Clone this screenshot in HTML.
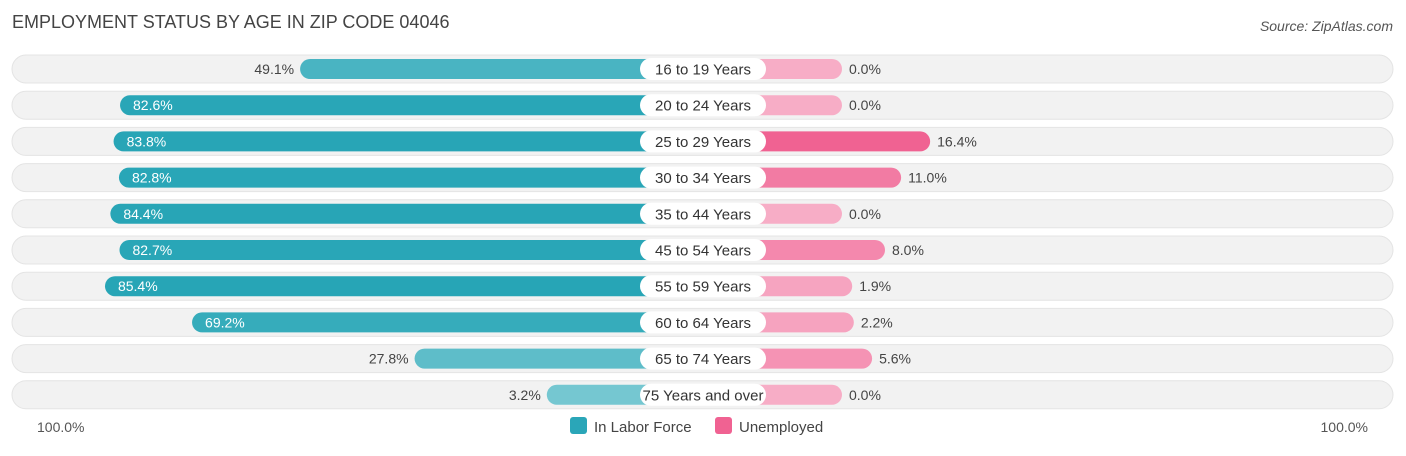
<!DOCTYPE html>
<html><head><meta charset="utf-8"><style>
body{margin:0;background:#fff;font-family:"Liberation Sans",sans-serif;}
svg text{font-family:"Liberation Sans",sans-serif;}
</style></head><body>
<svg id="chart" width="1406" height="451" xmlns="http://www.w3.org/2000/svg">
<text x="12" y="28" font-size="18" fill="#444">EMPLOYMENT STATUS BY AGE IN ZIP CODE 04046</text>
<text x="1393" y="31" font-size="14" fill="#555" text-anchor="end" font-style="italic">Source: ZipAtlas.com</text>
<g id="rows"></g>
<text x="37" y="432" font-size="14" fill="#555">100.0%</text>
<text x="1368" y="432" font-size="14" fill="#555" text-anchor="end">100.0%</text>
<g>
<rect x="570" y="417" width="17" height="17" rx="3" fill="#2aa6b8"/>
<text x="594" y="432" font-size="15" fill="#444">In Labor Force</text>
<rect x="715" y="417" width="17" height="17" rx="3" fill="#f06292"/>
<text x="739" y="432" font-size="15" fill="#444">Unemployed</text>
</g>
</svg>
<script>
const categories=["16 to 19 Years","20 to 24 Years","25 to 29 Years","30 to 34 Years","35 to 44 Years","45 to 54 Years","55 to 59 Years","60 to 64 Years","65 to 74 Years","75 Years and over"];
const laborForce=[49.1,82.6,83.8,82.8,84.4,82.7,85.4,69.2,27.8,3.2];
const unemployed=[0.0,0.0,16.4,11.0,0.0,8.0,1.9,2.2,5.6,0.0];
const NS="http://www.w3.org/2000/svg";
const g=document.getElementById("rows");
const cx=703,off=139,scale=5.375;
function lx(v){return cx-off-v*scale;}
function rx(v){return cx+off+v*scale;}
function rowY(i){return 69+i*36.2;}
function mix(a,b,t){return "rgb("+a.map((c,k)=>Math.round(c+(b[k]-c)*t)).join(",")+")";}
function mk(tag,attrs){const e=document.createElementNS(NS,tag);for(const k in attrs)e.setAttribute(k,attrs[k]);return e;}
categories.forEach((cat,i)=>{
  const y=rowY(i);
  const bg=mk("rect",{x:12,y:y-14,width:1381,height:28,rx:14,fill:"#f2f2f2",stroke:"#e4e4e4"});
  
  
  g.appendChild(bg);
  const lv=laborForce[i],x0=lx(lv);
  const tl=Math.min(1,lv/85);
  const lb=mk("rect",{x:x0,y:y-10,width:cx-x0,height:20,rx:10,fill:mix([120,200,210],[39,165,182],tl)});
  
  
  g.appendChild(lb);
  const uv=unemployed[i],x1=rx(uv);
  const tu=Math.min(1,uv/16.4);
  const ub=mk("rect",{x:cx,y:y-10,width:x1-cx,height:20,rx:10,fill:mix([247,173,198],[240,98,146],tu)});
  
  
  g.appendChild(ub);
  const pill=mk("rect",{x:cx-63,y:y-11,width:126,height:22,rx:11,fill:"#fff"});
  
  
  g.appendChild(pill);
  const ct=mk("text",{x:cx,y:y+5.5,"font-size":15,fill:"#333","text-anchor":"middle"});
  ct.textContent=cat;
  
  
  g.appendChild(ct);
  const inside=lv>60;
  const lt=mk("text",inside?{x:x0+13,y:y+5,"font-size":14,fill:"#fff"}:{x:x0-6,y:y+5,"font-size":14,fill:"#444","text-anchor":"end"});
  lt.textContent=lv.toFixed(1)+"%";
  
  
  g.appendChild(lt);
  const ut=mk("text",{x:x1+7,y:y+5,"font-size":14,fill:"#444"});
  ut.textContent=uv.toFixed(1)+"%";
  
  
  g.appendChild(ut);
});
</script>
</body></html>
